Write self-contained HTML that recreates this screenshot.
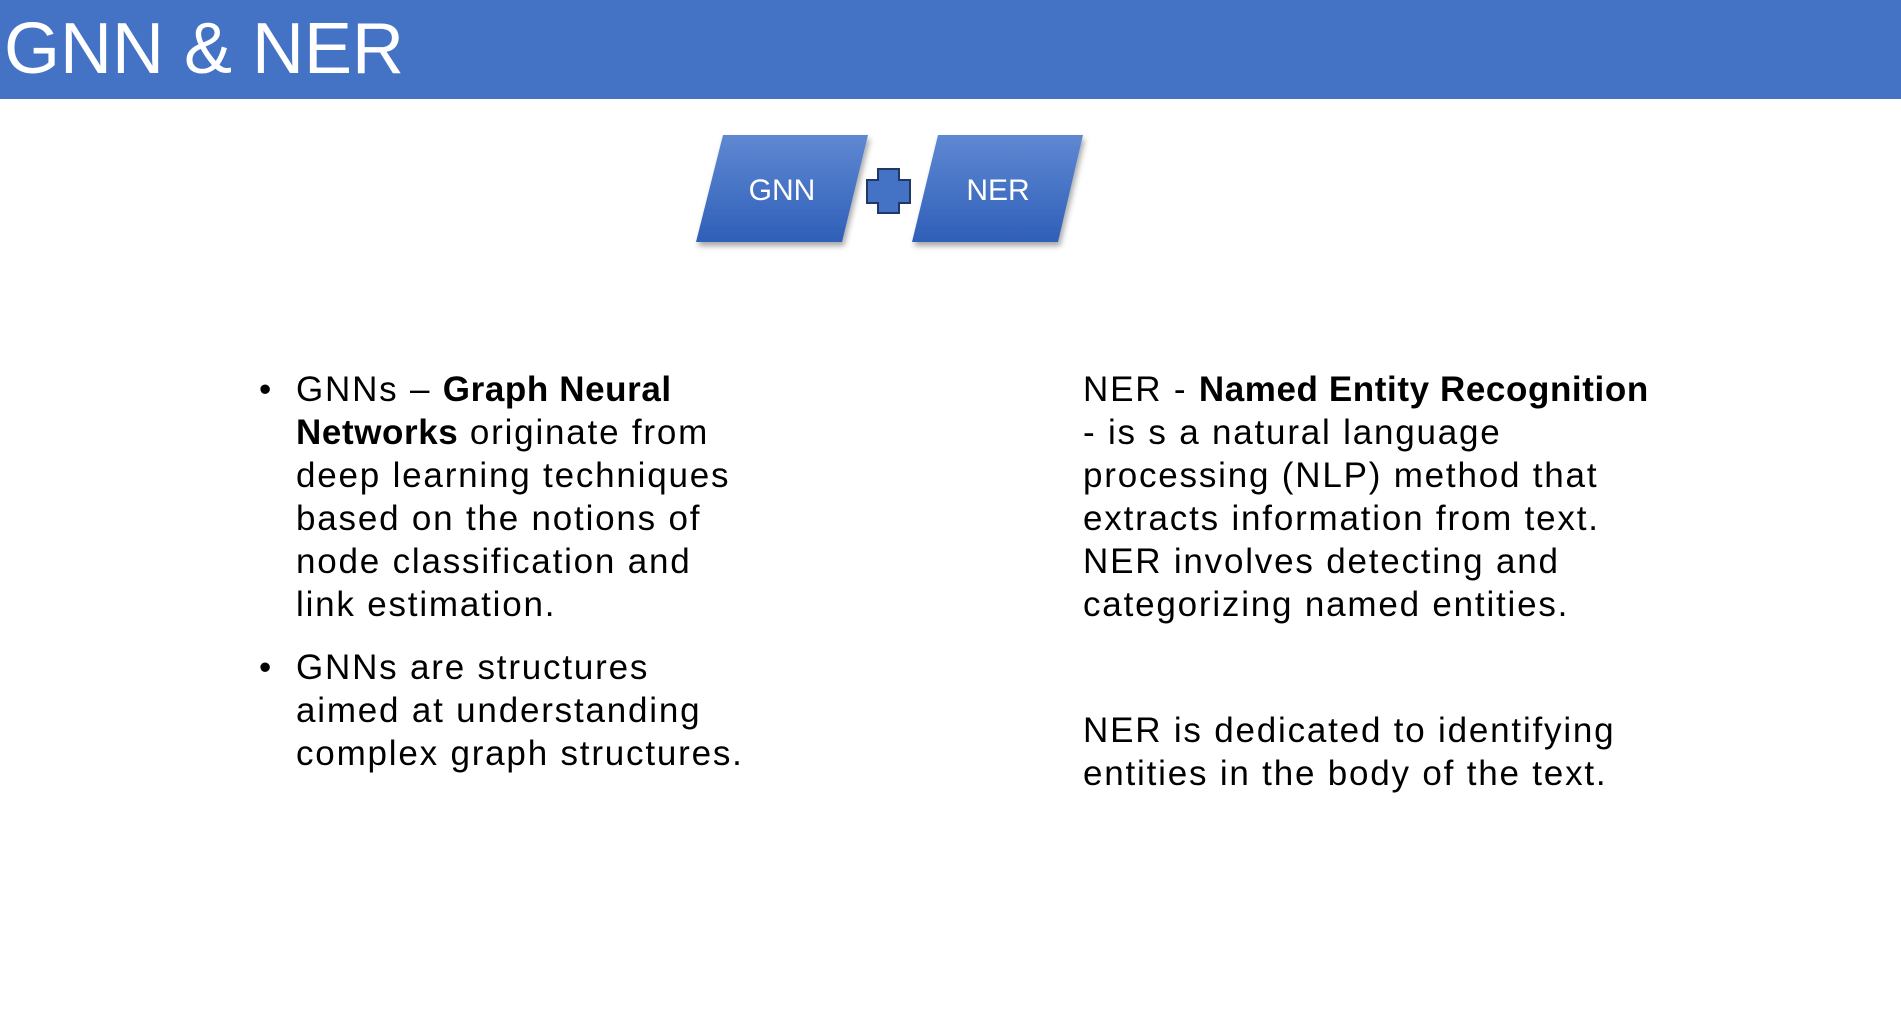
<!DOCTYPE html>
<html><head><style>
body{margin:0;width:1901px;height:1015px;background:#fff;position:relative;overflow:hidden;font-family:"Liberation Sans",sans-serif}
.hdr{position:absolute;left:0;top:0;width:1901px;height:99px;background:#4472c4}
.title{position:absolute;left:4px;top:6px;font-size:72px;color:#fff;line-height:86px}
.t{position:absolute;font-size:35px;color:#000;white-space:nowrap;line-height:43px;letter-spacing:1.8px}
.t b{font-weight:bold;letter-spacing:0.6px}
.dot{position:absolute;font-size:35px;line-height:43px}
</style></head><body>
<div class="hdr"></div>
<div class="title">GNN &amp; NER</div>
<svg width="1901" height="1015" style="position:absolute;left:0;top:0">
<defs>
<linearGradient id="g" x1="0" y1="0" x2="0" y2="1"><stop offset="0" stop-color="#5f88d2"/><stop offset="1" stop-color="#2f5fb8"/></linearGradient>
<filter id="s" x="-20%" y="-20%" width="140%" height="150%"><feDropShadow dx="2" dy="4" stdDeviation="3" flood-color="#000" flood-opacity="0.35"/></filter>
</defs>
<polygon points="723,135 868,135 842,242 696,242" fill="url(#g)" filter="url(#s)"/>
<polygon points="938,135 1083,135 1058,242 912,242" fill="url(#g)" filter="url(#s)"/>
<polygon points="878,169 899,169 899,180 910,180 910,203 899,203 899,213 878,213 878,203 867,203 867,180 878,180" fill="#4472c4" stroke="#1f3864" stroke-width="2"/>
<text x="782" y="200" fill="#fff" font-size="30" text-anchor="middle" font-family="Liberation Sans, sans-serif">GNN</text>
<text x="998" y="200" fill="#fff" font-size="30" text-anchor="middle" font-family="Liberation Sans, sans-serif">NER</text>
</svg>
<div class="dot" style="left:259px;top:368px">•</div>
<div class="t" style="left:296px;top:368px">GNNs – <b>Graph Neural</b><br><b>Networks</b> originate from<br>deep learning techniques<br>based on the notions of<br>node classification and<br>link estimation.</div>
<div class="dot" style="left:259px;top:646px">•</div>
<div class="t" style="left:296px;top:646px">GNNs are structures<br>aimed at understanding<br>complex graph structures.</div>
<div class="t" style="left:1083px;top:368px">NER - <b>Named Entity Recognition</b><br>- is s a natural language<br>processing (NLP) method that<br>extracts information from text.<br>NER involves detecting and<br>categorizing named entities.</div>
<div class="t" style="left:1083px;top:709px">NER is dedicated to identifying<br>entities in the body of the text.</div>
</body></html>
